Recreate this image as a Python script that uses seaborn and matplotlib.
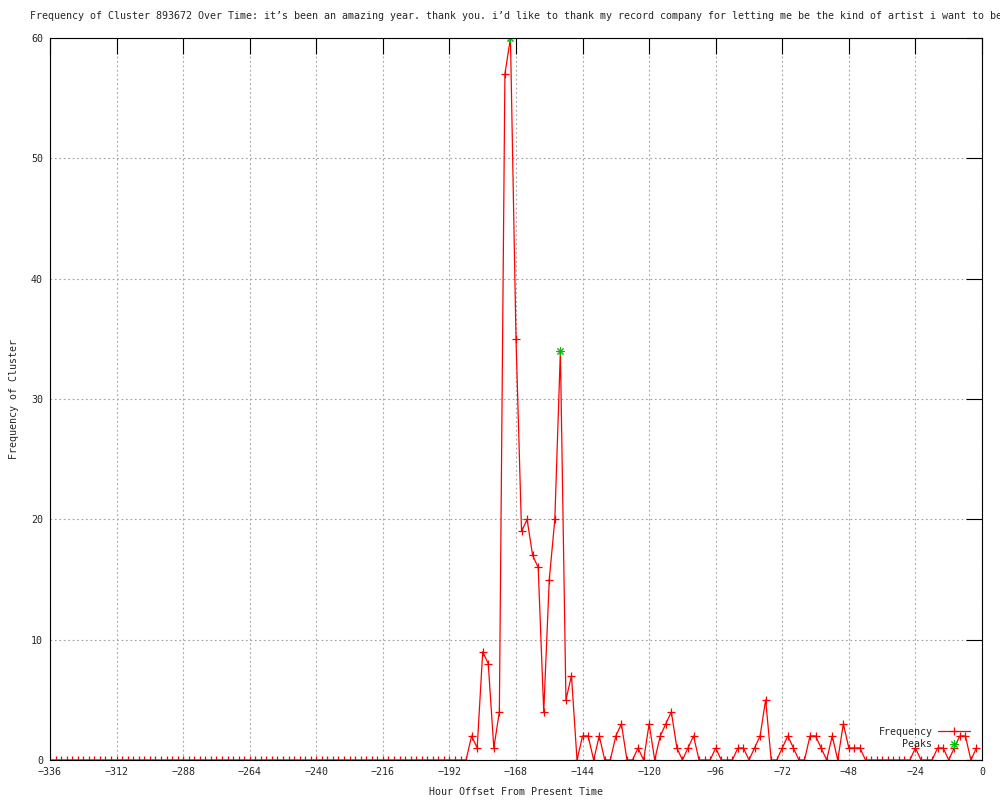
import numpy as np
import pandas as pd
import matplotlib
matplotlib.use("Agg")
import matplotlib.pyplot as plt
import seaborn as sns

# Hour offsets (every 2 hours) and cluster frequency, read row by row (24 h per row)
hours = list(range(-336, 0, 2))
frequency = [
    0, 0, 0, 0, 0, 0, 0, 0, 0, 0, 0, 0,        # -336 .. -314
    0, 0, 0, 0, 0, 0, 0, 0, 0, 0, 0, 0,        # -312 .. -290
    0, 0, 0, 0, 0, 0, 0, 0, 0, 0, 0, 0,        # -288 .. -266
    0, 0, 0, 0, 0, 0, 0, 0, 0, 0, 0, 0,        # -264 .. -242
    0, 0, 0, 0, 0, 0, 0, 0, 0, 0, 0, 0,        # -240 .. -218
    0, 0, 0, 0, 0, 0, 0, 0, 0, 0, 0, 0,        # -216 .. -194
    0, 0, 0, 0, 2, 1, 9, 8, 1, 4, 57, 60,      # -192 .. -170
    35, 19, 20, 17, 16, 4, 15, 20, 34, 5, 7, 0,  # -168 .. -146
    2, 2, 0, 2, 0, 0, 2, 3, 0, 0, 1, 0,        # -144 .. -122
    3, 0, 2, 3, 4, 1, 0, 1, 2, 0, 0, 0,        # -120 .. -98
    1, 0, 0, 0, 1, 1, 0, 1, 2, 5, 0, 0,        # -96 .. -74
    1, 2, 1, 0, 0, 2, 2, 1, 0, 2, 0, 3,        # -72 .. -50
    1, 1, 1, 0, 0, 0, 0, 0, 0, 0, 0, 0,        # -48 .. -26
    1, 0, 0, 0, 1, 1, 0, 1, 2, 2, 0, 1,        # -24 .. -2
]
peak_hours = [-170, -152]
peak_values = [60, 34]

x_ticks = list(range(-336, 1, 24))
y_ticks = [0, 10, 20, 30, 40, 50, 60]

title = ("Frequency of Cluster 893672 Over Time: it\u2019s been an amazing year. thank you. "
         "i\u2019d like to thank my record company for letting me be the kind of artist i want to be")

df = pd.DataFrame({"Hour": hours, "Frequency": frequency})
peaks = pd.DataFrame({"Hour": peak_hours, "Frequency": peak_values})

sns.set_style("white")
plt.rcParams["font.family"] = ["DejaVu Sans Mono"]
plt.rcParams["font.size"] = 7.2

fig = plt.figure(figsize=(10, 8), dpi=100)
ax = fig.add_axes([0.05, 0.05, 0.932, 0.9025])

sns.lineplot(data=df, x="Hour", y="Frequency", ax=ax, color="#ff0000", linewidth=0.9,
             marker="+", markersize=6, markeredgewidth=0.9, markeredgecolor="#ff0000",
             label="Frequency")
sns.lineplot(data=peaks, x="Hour", y="Frequency", ax=ax, color="#00c000", linestyle="",
             marker=(8, 2, 0), markersize=6, markeredgewidth=0.7, markeredgecolor="#00c000",
             label="Peaks")

ax.set_xlim(-336, 0)
ax.set_ylim(0, 60)
ax.set_xticks(x_ticks)
ax.set_yticks(y_ticks)
ax.set_xticklabels([str(t).replace("-", "\u2212") for t in x_ticks])

ax.grid(True, color="#a0a0a0", linestyle=(0, (1.5, 2.5)), linewidth=0.8)
for s in ax.spines.values():
    s.set_color("black")
    s.set_linewidth(0.8)
ax.tick_params(direction="in", length=11.5, width=0.8, color="black",
               top=True, right=True, labelsize=7.2, pad=5)

ax.set_xlabel("Hour Offset From Present Time", fontsize=7.2, labelpad=7)
ax.set_ylabel("Frequency of Cluster", fontsize=7.2, labelpad=9)
ax.set_title(title, fontsize=7.2, pad=14)

leg = ax.legend(loc="lower right", bbox_to_anchor=(0.993, 0.008), frameon=False,
                markerfirst=False, handlelength=3.2, handletextpad=0.6,
                labelspacing=0.25, borderpad=0, fontsize=7.2)
for t in leg.get_texts():
    t.set_ha("right")

fig.savefig("out.png", dpi=100, facecolor="white")
